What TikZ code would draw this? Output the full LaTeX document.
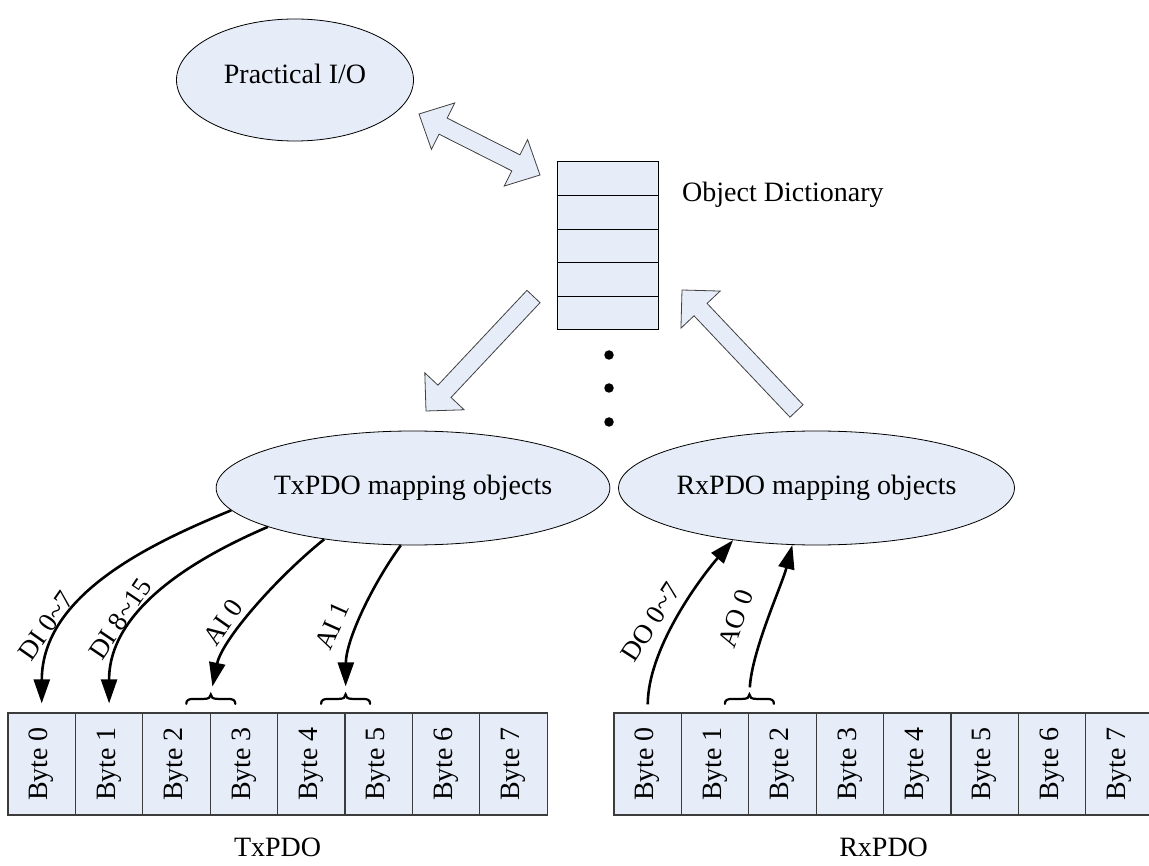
\documentclass[tikz,border=0pt]{standalone}
\usepackage{fontspec}
\setmainfont{Liberation Serif}
\usetikzlibrary{calc,shapes.geometric,arrows.meta}
\definecolor{pale}{RGB}{230,237,248}
\definecolor{cellline}{RGB}{60,60,60}
\newcommand\bigfont{\fontsize{28}{34}\selectfont}
\newcommand\lblfont{\fontsize{27}{32}\selectfont}
\newcommand\singlearrow[2]{%
  \coordinate (hh) at ($(#2)!27pt!(#1)$);
  \path[blockarr] ($(#1)!9pt!90:(#2)$) -- ($(hh)!9pt!90:(#2)$) -- ($(hh)!27pt!90:(#2)$) -- (#2)
    -- ($(hh)!27pt!-90:(#2)$) -- ($(hh)!9pt!-90:(#2)$) -- ($(#1)!9pt!-90:(#2)$) -- cycle;}
\newcommand\doublearrow[2]{%
  \coordinate (ha) at ($(#1)!27pt!(#2)$);
  \coordinate (hb) at ($(#2)!27pt!(#1)$);
  \path[blockarr] (#1) -- ($(ha)!26pt!90:(#2)$) -- ($(ha)!9pt!90:(#2)$) -- ($(hb)!9pt!90:(#2)$)
    -- ($(hb)!26pt!90:(#2)$) -- (#2) -- ($(hb)!26pt!-90:(#2)$) -- ($(hb)!9pt!-90:(#2)$)
    -- ($(ha)!9pt!-90:(#2)$) -- ($(ha)!26pt!-90:(#2)$) -- cycle;}
\begin{document}
\begin{tikzpicture}[x=1pt,y=-1pt,
  oval/.style={ellipse,draw=black,line width=0.8pt,fill=pale,inner sep=0pt,font=\bigfont},
  cellbox/.style={draw=cellline,line width=1.2pt,fill=pale,minimum width=67.4pt,minimum height=102pt,inner sep=0pt,font=\bigfont},
  odrow/.style={draw=black,line width=1pt,fill=pale,minimum width=101pt,minimum height=33.6pt,inner sep=0pt},
  plain/.style={inner sep=0pt,font=\bigfont},
  lbl/.style={inner sep=0pt,font=\lblfont},
  dotc/.style={circle,fill=black,inner sep=0pt,minimum size=9.5pt},
  blockarr/.style={draw=black!75,line width=0.8pt,fill=pale,line join=miter},
  maparrow/.style={line width=2.6pt,-{Triangle[length=24pt,width=16pt]}},
  bracepic/.pic={\draw[line width=2.2pt,line cap=round] (-24.5,9.5) .. controls (-24.5,5.5) and (-22,4.5) .. (-17,4.5) -- (-7,4.5) .. controls (-2,4.5) and (0,3) .. (0,0) .. controls (0,3) and (2,4.5) .. (7,4.5) -- (17,4.5) .. controls (22,4.5) and (24.5,5.5) .. (24.5,9.5);
    \coordinate (-tip) at (0,0);}
]
\useasboundingbox (0,0) rectangle (1149,866);
\clip (0,0) rectangle (1149,866);

% top ellipse
\node[oval,minimum width=237pt,minimum height=122pt,text depth=12pt] (pio) at (295,80) {Practical I/O};

% object dictionary
\foreach \i in {1,...,5} {
  \node[odrow] (od\i) at (607.5,{162+16.8+33.6*(\i-1)}) {};
}
\node[plain,anchor=west] (odl) at (682,195) {Object Dictionary};

% dots
\node[dotc] (dA) at (609,355) {};
\node[dotc] (dB) at (609,388) {};
\node[dotc] (dC) at (609,422) {};

% mapping ellipses
\node[oval,minimum width=338pt,minimum height=114pt] (tx) at (413,488) {TxPDO mapping objects};
\node[oval,minimum width=337pt,minimum height=114pt] (rx) at (816.5,488) {RxPDO mapping objects};

% block arrows
\coordinate (ioA) at (419,114);
\coordinate (ioB) at (540,175);
\doublearrow{ioA}{ioB}
\coordinate (dnTail) at (533.5,296.5);
\coordinate (dnTip) at (426,411);
\singlearrow{dnTail}{dnTip}
\coordinate (upTail) at (796.5,411);
\coordinate (upTip) at (682,290);
\singlearrow{upTail}{upTip}

% byte rows
\foreach \i in {0,...,7} {
  \node[cellbox] (tx\i) at ({41.7+67.4*\i},764) {\rotatebox{90}{Byte \i}};
  \node[cellbox] (rx\i) at ({647.7+67.4*\i},764) {\rotatebox{90}{Byte \i}};
}
\node[plain] (txl) at (277.6,847) {TxPDO};
\node[plain] (rxl) at (883.6,847) {RxPDO};

% braces
\pic (bA) at ($(tx2.north east)+(0,-18)$) {bracepic};
\pic (bB) at ($(tx4.north east)+(0,-18)$) {bracepic};
\pic (bC) at ($(rx1.north east)+(0,-18)$) {bracepic};

% mapping arrows
\draw[maparrow,shorten >=9pt] (tx.187) .. controls (152,543) and (42,594) .. (tx0.north);
\draw[maparrow,shorten >=9pt] (tx.195) .. controls (193,559) and (109,610) .. (tx1.north);
\draw[maparrow,shorten >=8pt] (tx.210) .. controls (275,579) and (222,640) .. (bA-tip);
\draw[maparrow,shorten >=8pt] (tx.258) .. controls (372,585) and (346,640) .. (bB-tip);
\draw[maparrow,shorten <=8pt] (rx0.north) .. controls (648,650) and (697,582) .. (rx.212);
\draw[maparrow,shorten <=7pt] (bC-tip) .. controls (752,650) and (782,585) .. (rx.247);

% labels
\node[lbl,rotate=55] (l1) at (46,626) {DI 0\textasciitilde 7};
\node[lbl,rotate=56] (l2) at (120,619) {DI 8\textasciitilde 15};
\node[lbl,rotate=55] (l3) at (223,622) {AI 0};
\node[lbl,rotate=66] (l4) at (332,626) {AI 1};
\node[lbl,rotate=57] (l5) at (651,622) {DO 0\textasciitilde 7};
\node[lbl,rotate=70] (l6) at (736,619) {AO 0};
\end{tikzpicture}
\end{document}
